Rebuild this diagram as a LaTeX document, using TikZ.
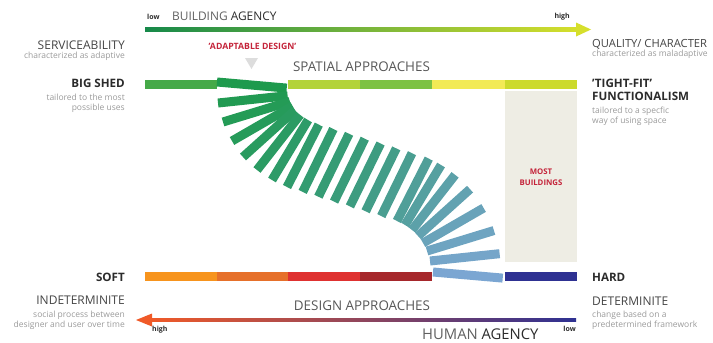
\documentclass[tikz,border=0pt]{standalone}
\usepackage{fontspec}
\setmainfont{Open Sans}
\definecolor{txtdark}{HTML}{2B2B2B}
\definecolor{txtmid}{HTML}{444444}
\definecolor{txtgrey}{HTML}{9A9A9A}
\definecolor{txtred}{HTML}{C4243A}
\definecolor{agA}{HTML}{16894A}
\definecolor{agB}{HTML}{6DBB3A}
\definecolor{agC}{HTML}{D6DF2C}
\definecolor{huA}{HTML}{F05A28}
\definecolor{huB}{HTML}{BE1E2D}
\definecolor{huC}{HTML}{2E3192}
\definecolor{spA}{HTML}{45A948}
\definecolor{spC}{HTML}{B3D33A}
\definecolor{spD}{HTML}{7DC243}
\definecolor{spE}{HTML}{F2EA55}
\definecolor{spF}{HTML}{CCDA2C}
\definecolor{deA}{HTML}{F7941D}
\definecolor{deB}{HTML}{E6702A}
\definecolor{deC}{HTML}{DF3130}
\definecolor{deD}{HTML}{A6272B}
\definecolor{deF}{HTML}{2E3192}
\definecolor{boxbg}{HTML}{EEEDE4}
\definecolor{trig}{HTML}{DDDDDD}
\definecolor{fanG}{HTML}{1E9A4D}
\definecolor{fanT}{HTML}{3A9C7C}
\definecolor{fanB}{HTML}{7BA6D2}
\tikzset{
  seg/.style={line width=9pt},
  fanbar/.style={line width=9pt},
  bigl/.style={font=\bfseries\fontsize{11.6}{13.5}\selectfont, text=txtdark, inner sep=0pt},
  medl/.style={font=\fontsize{12}{13}\selectfont, text=txtmid, inner sep=0pt},
  subl/.style={font=\fontsize{8.5}{9.8}\selectfont, text=txtgrey, inner sep=0pt},
  headl/.style={font=\fontsize{13.4}{15}\selectfont, text=txtmid!90!white, inner sep=0pt},
  tinyl/.style={font=\bfseries\fontsize{7}{8}\selectfont, text=txtdark, inner sep=0pt},
  redl/.style={font=\bfseries\fontsize{8.7}{9}\selectfont, text=txtred, inner sep=0pt, align=center},
}
\begin{document}
\begin{tikzpicture}[x=1pt,y=-1pt]
\useasboundingbox (0,0) rectangle (713,343);

% Building agency arrow
\coordinate (baS) at (145,29.5);
\coordinate (baE) at (578,29.5);
\shade[left color=agA, middle color=agB, right color=agC] (145,27.5) rectangle (578,31.5);
\fill[agC] (576,22.5) -- (591,29.5) -- (576,36.5) -- cycle;
\node[tinyl, anchor=west] (balow) at (147,17) {low};
\node[font=\fontsize{11.9}{14}\selectfont, inner sep=0pt, anchor=west] (batitle) at (172,16) {\textcolor{txtmid!85!white}{BUILDING} \textcolor{txtdark}{AGENCY}};
\node[tinyl, anchor=east] (bahigh) at (570,16.5) {high};

% Left labels
\node[medl, anchor=east] (serv) at (125,45) {SERVICEABILITY};
\node[subl, anchor=east] (servsub) at (125,56.5) {characterized as adaptive};
\node[bigl, anchor=east] (bigshed) at (125,83) {BIG SHED};
\node[subl, anchor=east, align=right] (bigsub) at (125,103) {tailored to the most\\possible uses};
\node[bigl, anchor=east] (soft) at (125,277) {SOFT};
\node[medl, anchor=east] (indet) at (125,300) {INDETERMINITE};
\node[subl, anchor=east, align=right] (indsub) at (125,320) {social process between\\designer and user over time};

% Right labels
\node[medl, font=\fontsize{11.2}{13}\selectfont, anchor=west] (qual) at (592,44) {QUALITY/ CHARACTER};
\node[subl, anchor=west] (qualsub) at (592,54.5) {characterized as maladaptive};
\node[bigl, anchor=west, align=left] (tight) at (592,90) {'TIGHT-FIT'\\FUNCTIONALISM};
\node[subl, anchor=west, align=left] (tightsub) at (592,116.5) {tailored to a specfic\\way of using space};
\node[bigl, anchor=west] (hard) at (592,277) {HARD};
\node[medl, anchor=west] (det) at (592,301) {DETERMINITE};
\node[subl, anchor=west, align=left] (detsub) at (592,320.5) {change based on a\\predetermined framework};

% Adaptable design
\node[redl] (adapt) at (252.5,46) {'ADAPTABLE DESIGN'};
\fill[trig] (245,58) -- (258,58) -- (251.5,69) -- cycle;

% Spatial approaches
\node[headl] (spat) at (361.5,67) {SPATIAL APPROACHES};
\draw[seg, spA] (145,84.5) -- (217,84.5);
\draw[seg, spC] (288,84.5) -- (360,84.5);
\draw[seg, spD] (360,84.5) -- (432,84.5);
\draw[seg, spE] (432,84.5) -- (505,84.5);
\draw[seg, spF] (505,84.5) -- (577,84.5);

% Most buildings box
\fill[boxbg] (505,91) rectangle (577,262);
\node[redl, font=\bfseries\fontsize{7.8}{10.5}\selectfont] (most) at (541,177) {MOST\\BUILDINGS};

% Design approaches
\draw[seg, deA] (145,276.5) -- (217,276.5);
\draw[seg, deB] (217,276.5) -- (288,276.5);
\draw[seg, deC] (288,276.5) -- (360,276.5);
\draw[seg, deD] (360,276.5) -- (432,276.5);
\draw[seg, deF] (505,276.5) -- (577,276.5);
\node[headl] (desi) at (362,305.5) {DESIGN APPROACHES};

% Fan of bars
\foreach \bx/\by/\ba [count=\i] in {
 217/82/-5, 218/103/6, 223/122/17, 232/141/30, 243/157/42, 257/170/52, 272/180/59, 287/187/63,
 302.7/191.9/64, 318.4/196.7/64, 334.1/201.6/64, 349.9/206.4/64, 365.6/211.3/64, 381.3/216.1/64,
 397/221/63, 405/225/59, 412/230/52, 418/236/42, 423/243/30, 427/251/17, 430/261/6, 433/272/-5} {
  \pgfmathtruncatemacro\tt{round(100*(\i-1)/21)}
  \ifnum\tt<50
    \pgfmathtruncatemacro\pp{100-2*\tt}
    \colorlet{barc}{fanG!\pp!fanT}
  \else
    \pgfmathtruncatemacro\pp{200-2*\tt}
    \colorlet{barc}{fanT!\pp!fanB}
  \fi
  \draw[fanbar, barc] (\bx,\by) -- ++(-\ba:70);
}

% Human agency arrow
\coordinate (huS) at (150,320);
\coordinate (huE) at (576,320);
\shade[left color=huA, middle color=huB, right color=huC] (150,318.3) rectangle (576,321.7);
\fill[huA] (136,320) -- (152,313.5) -- (152,326.5) -- cycle;
\node[tinyl, anchor=west] (huhigh) at (152,330) {high};
\node[font=\fontsize{14.8}{16}\selectfont, inner sep=0pt, anchor=west] (hutitle) at (422,334.5) {\textcolor{txtmid!85!white}{HUMAN} \textcolor{txtdark}{AGENCY}};
\node[tinyl, anchor=east] (hulow) at (576,328.5) {low};
\end{tikzpicture}
\end{document}
